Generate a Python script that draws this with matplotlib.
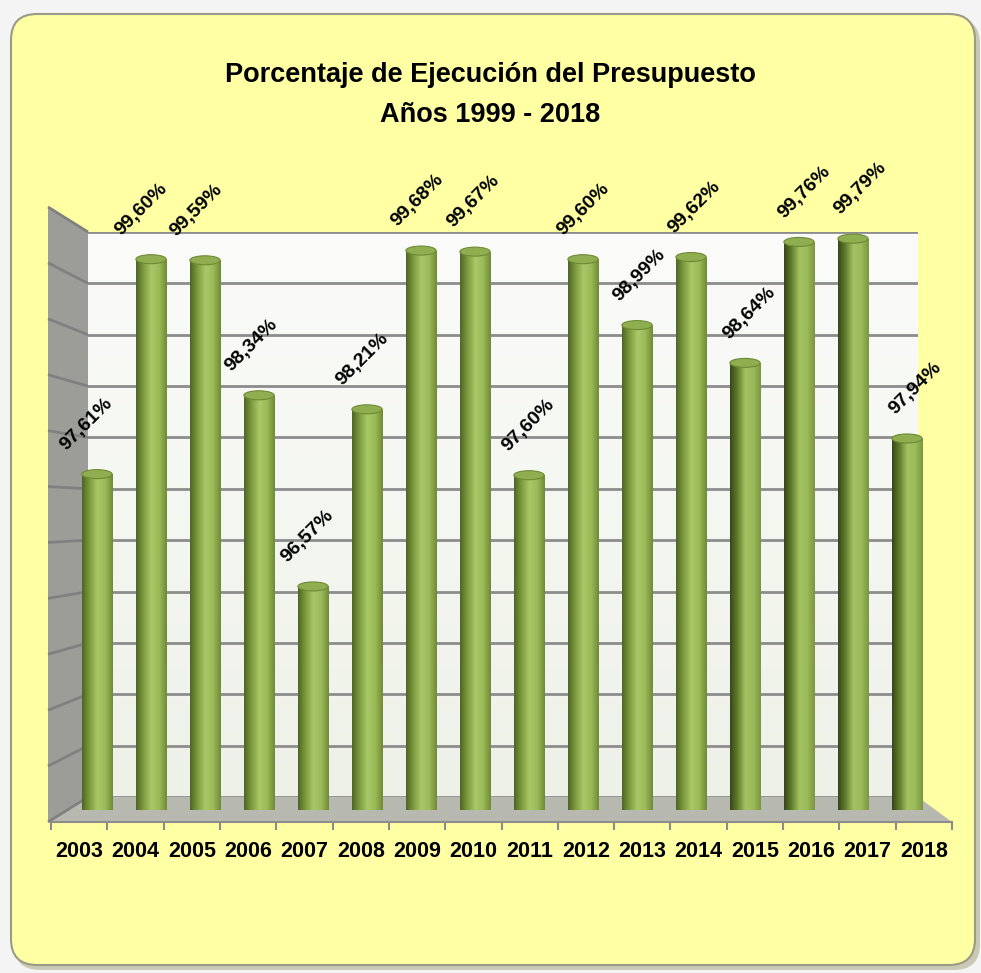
import numpy as np
import matplotlib
matplotlib.use('Agg')
import matplotlib.pyplot as plt
from matplotlib.patches import FancyBboxPatch, Polygon, Ellipse
from matplotlib.colors import LinearSegmentedColormap

# data
years = ['2003', '2004', '2005', '2006', '2007', '2008', '2009', '2010',
         '2011', '2012', '2013', '2014', '2015', '2016', '2017', '2018']
values = [97.61, 99.60, 99.59, 98.34, 96.57, 98.21, 99.68, 99.67,
          97.60, 99.60, 98.99, 99.62, 98.64, 99.76, 99.79, 97.94]
labels = ['97,61%', '99,60%', '99,59%', '98,34%', '96,57%', '98,21%', '99,68%', '99,67%',
          '97,60%', '99,60%', '98,99%', '99,62%', '98,64%', '99,76%', '99,79%', '97,94%']
y_min, y_max, y_step = 94.5, 100.0, 0.5
title = 'Porcentaje de Ejecución del Presupuesto\nAños 1999 - 2018'

W, H = 981, 973
FONT = ['Liberation Sans', 'DejaVu Sans']
plt.rcParams['font.family'] = FONT

fig = plt.figure(figsize=(W / 100, H / 100), dpi=100)
fig.patch.set_facecolor('#f4f4f4')


def px_axes(x0, y0, x1, y1, z):
    # axes placed by pixel box (top-left origin)
    return fig.add_axes([x0 / W, 1 - y1 / H, (x1 - x0) / W, (y1 - y0) / H], zorder=z)


# background card + 3d walls in pixel coords
bg = fig.add_axes([0, 0, 1, 1], zorder=0)
bg.set_xlim(0, W)
bg.set_ylim(H, 0)
bg.axis('off')
bg.add_patch(FancyBboxPatch((14, 18), 966, 952, boxstyle='round,pad=0,rounding_size=26',
                            facecolor='#c9c9b6', edgecolor='none'))
bg.add_patch(FancyBboxPatch((11, 14), 964, 951, boxstyle='round,pad=0,rounding_size=26',
                            facecolor='#ffffa3', edgecolor='#9a9a86', linewidth=1.5))

# wall geometry (pixels)
wx0, wx1, wy0, wy1 = 88, 918, 232, 797
sx, sy0, sy1 = 48, 207, 822
bg.add_patch(Polygon([(sx, sy0), (wx0, wy0), (wx0, wy1), (sx, sy1)], closed=True,
                     facecolor='#9c9d98', edgecolor='none'))
bg.add_patch(Polygon([(wx0, wy1), (wx1, wy1), (952, sy1), (sx, sy1)], closed=True,
                     facecolor='#b7b9b1', edgecolor='none'))
grid_vals = np.arange(y_min, y_max + 1e-9, y_step)
for g in grid_vals:
    t = (g - y_min) / (y_max - y_min)
    yb = wy1 - t * (wy1 - wy0)
    yf = sy1 - t * (sy1 - sy0)
    bg.plot([sx, wx0], [yf, yb], color='#808080', lw=2, solid_capstyle='butt')

# back wall with value grid
wall = px_axes(wx0, wy0, wx1, wy1, 1)
wall.set_ylim(y_min, y_max)
wall.set_xlim(0, 1)
grad = np.linspace(0, 1, 256).reshape(-1, 1) * np.ones((1, 2))
wall.imshow(grad, extent=(0, 1, y_min, y_max), aspect='auto', origin='lower',
            cmap=LinearSegmentedColormap.from_list('w', ['#eef1e8', '#fbfcfa']), zorder=0)
wall.set_yticks(grid_vals)
wall.yaxis.grid(True, color='#8c8c8c', linewidth=2)
wall.tick_params(left=False, labelleft=False, bottom=False, labelbottom=False)
for s in wall.spines.values():
    s.set_visible(False)

# category axis along the floor front edge
cat = px_axes(51, 780, 952, 822, 2)
cat.set_xlim(-0.5, len(years) - 0.5)
cat.patch.set_visible(False)
for k in ['top', 'left', 'right']:
    cat.spines[k].set_visible(False)
cat.spines['bottom'].set_color('#8c8c8c')
cat.spines['bottom'].set_linewidth(1.5)
cat.set_yticks([])
cat.set_xticks(np.arange(len(years) + 1) - 0.5)
cat.set_xticklabels([])
cat.set_xticks(np.arange(len(years)), minor=True)
cat.set_xticklabels(years, minor=True, fontsize=15.5, fontweight='bold')
cat.tick_params(axis='x', which='major', length=6, color='#8c8c8c', width=1.5)
cat.tick_params(axis='x', which='minor', length=0, pad=14)

# bars (front plane)
ax = px_axes(70, 216, 934, 810, 3)
ax.set_xlim(-0.5, len(years) - 0.5)
ax.set_ylim(y_min, y_max)
ax.axis('off')

bw = 0.56
cyl = LinearSegmentedColormap.from_list('cyl', ['#4d6424', '#7f9d3f', '#a9c868', '#9bba58', '#6f8a35'])
cyl_dark = LinearSegmentedColormap.from_list('cyl2', ['#36451a', '#63802c', '#a3c262', '#9bba58', '#7a9640'])
xg = np.linspace(0, 1, 256).reshape(1, -1)
px_per_val = 594 / (y_max - y_min)
cap_h = 9 / px_per_val

bars = ax.bar(np.arange(len(years)), [v - y_min for v in values], bottom=y_min,
              width=bw, color='#8fae4f', edgecolor='none', zorder=2)
for i, (b, v) in enumerate(zip(bars, values)):
    x0 = b.get_x()
    cm = cyl_dark if i >= 12 else cyl
    im = ax.imshow(xg, extent=(x0, x0 + bw, y_min, v), aspect='auto', cmap=cm, zorder=3)
    im.set_clip_path(b)
    # rounded bottom and top cap
    ax.add_patch(Ellipse((i, y_min), bw, cap_h, facecolor='#7f9d3f', edgecolor='none', zorder=2.5))
    ax.add_patch(Ellipse((i, v), bw, cap_h, facecolor='#8fae4f', edgecolor='#6e8a36',
                         linewidth=0.8, zorder=4))
    ax.annotate(labels[i], (i, v), xytext=(-11 + 1.3 * i, 50), textcoords='offset pixels',
                ha='center', va='center', rotation=45, fontsize=14, fontweight='bold',
                annotation_clip=False, zorder=5)

fig.text(0.5, 1 - 95 / H, title, ha='center', va='center', fontsize=19.5,
         fontweight='bold', linespacing=1.65)

fig.savefig('out.png', dpi=100, facecolor=fig.get_facecolor())
